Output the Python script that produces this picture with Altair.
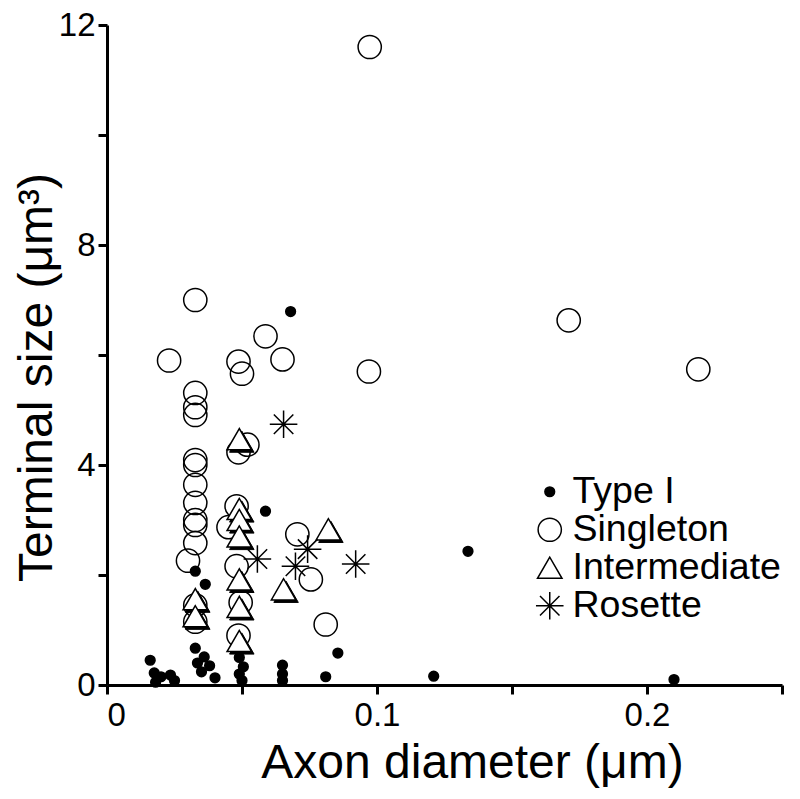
import altair as alt
import pandas as pd

# ---- data ----
singleton_x = [0.0973, 0.0327, 0.023, 0.0587, 0.065, 0.0487, 0.050, 0.097, 0.171, 0.219,
               0.0327, 0.0327, 0.0327, 0.0327, 0.0327, 0.0327, 0.0327, 0.0327, 0.0327, 0.0327, 0.030,
               0.0327, 0.0327,
               0.052, 0.0487, 0.048, 0.045, 0.048, 0.0495, 0.0487,
               0.0705, 0.0755, 0.081]
singleton_y = [11.6, 7.0, 5.9, 6.34, 5.92, 5.88, 5.66, 5.70, 6.63, 5.74,
               5.31, 5.05, 4.91, 4.09, 4.0, 3.64, 3.31, 3.0, 2.91, 2.58, 2.26,
               1.45, 1.15,
               4.37, 4.23, 3.25, 2.87, 2.16, 1.5, 0.9,
               2.74, 1.92, 1.1]

intermediate_x = [0.0327, 0.0327, 0.049, 0.049, 0.049, 0.049, 0.049, 0.049, 0.049, 0.082, 0.0654]
intermediate_y = [1.56, 1.25, 4.47, 3.2, 3.0, 2.7, 1.92, 1.42, 0.8, 2.83, 1.74]

rosette_x = [0.0654, 0.0557, 0.0743, 0.0698, 0.0921]
rosette_y = [4.74, 2.29, 2.47, 2.16, 2.20]

type1_x = [0.068, 0.0587, 0.1337, 0.0327, 0.0364, 0.0855, 0.081, 0.121, 0.21,
           0.016, 0.0175, 0.020, 0.0235, 0.025, 0.018,
           0.0327, 0.036, 0.035, 0.040, 0.0335, 0.038,
           0.049, 0.0505, 0.049, 0.050,
           0.065, 0.065, 0.065]
type1_y = [6.79, 3.16, 2.43, 2.07, 1.83, 0.58, 0.15, 0.16, 0.1,
           0.45, 0.22, 0.15, 0.18, 0.08, 0.05,
           0.67, 0.51, 0.24, 0.13, 0.4, 0.35,
           0.5, 0.33, 0.2, 0.08,
           0.36, 0.2, 0.08]

types = ["Type I", "Singleton", "Intermediate", "Rosette"]

rows = []
for t, xs, ys in [("Singleton", singleton_x, singleton_y),
                  ("Intermediate", intermediate_x, intermediate_y),
                  ("Rosette", rosette_x, rosette_y),
                  ("Type I", type1_x, type1_y)]:
    for a, b in zip(xs, ys):
        rows.append({"diam": a, "size": b, "type": t})
df = pd.DataFrame(rows)

asterisk = "M0,-1L0,1M-1,0L1,0M-0.7071,-0.7071L0.7071,0.7071M-0.7071,0.7071L0.7071,-0.7071"

FONT = "Liberation Sans"

x_enc = alt.X("diam:Q", scale=alt.Scale(domain=[0, 0.25], nice=False),
              axis=alt.Axis(title="Axon diameter (μm)", values=[0, 0.05, 0.1, 0.15, 0.2, 0.25],
                            titleX=365, titleY=54, titleBaseline="top", titleAlign="center",
                            labelExpr="datum.value == 0 ? '0' : (abs(datum.value - 0.1) < 1e-9 ? '0.1' : (abs(datum.value - 0.2) < 1e-9 ? '0.2' : ''))"))
y_enc = alt.Y("size:Q", scale=alt.Scale(domain=[0, 12], nice=False),
              axis=alt.Axis(title="Terminal size (μm³)", values=[0, 2, 4, 6, 8, 10, 12],
                            titleX=-46, titleY=352, titleBaseline="bottom", titleAlign="center",
                            titleAngle=270,
                            labelExpr="datum.value % 4 == 0 ? datum.label : ''"))

shadow = alt.Chart(df).transform_filter(alt.datum.type == "Intermediate").mark_point(
    shape="triangle-up", filled=True, fill="black", stroke="black", strokeWidth=1,
    size=600, xOffset=2.5, yOffset=2.5, opacity=1
).encode(x=x_enc, y=y_enc)

leg = alt.Legend(title=None, orient="none", legendX=424, legendY=448, padding=0,
                 labelFontSize=37.5, labelFont=FONT, labelColor="black", labelLimit=400,
                 symbolStrokeColor="black", symbolStrokeWidth=1.5,
                 rowPadding=-2.5, labelOffset=4)

main = alt.Chart(df).mark_point(filled=True, stroke="black", strokeWidth=1.5, opacity=1).encode(
    x=x_enc, y=y_enc,
    shape=alt.Shape("type:N", scale=alt.Scale(domain=types, range=["circle", "circle", "triangle-up", asterisk]),
                    legend=leg),
    fill=alt.Fill("type:N", scale=alt.Scale(domain=types, range=["black", "transparent", "white", "transparent"]),
                  legend=leg),
    stroke=alt.Stroke("type:N", scale=alt.Scale(domain=types, range=["black", "black", "black", "black"]),
                      legend=leg),
    size=alt.Size("type:N", scale=alt.Scale(type="ordinal", domain=types, range=[95, 540, 600, 760]),
                  legend=leg),
)

chart = alt.layer(shadow, main).properties(
    width=675, height=660,
    autosize=alt.AutoSizeParams(type="none"),
    padding={"left": 99, "top": 17, "right": 10, "bottom": 110},
).configure_view(stroke=None).configure_axis(
    grid=False, domainColor="black", domainWidth=3, tickColor="black", tickWidth=3, tickSize=9,
    labelFont=FONT, labelFontSize=33, labelColor="black", labelPadding=3,
    titleFont=FONT, titleFontSize=48, titleFontWeight="normal", titleColor="black",
).configure_axisX(labelPadding=5)

chart.save("out.html", embed_options={"renderer": "svg", "actions": False})
